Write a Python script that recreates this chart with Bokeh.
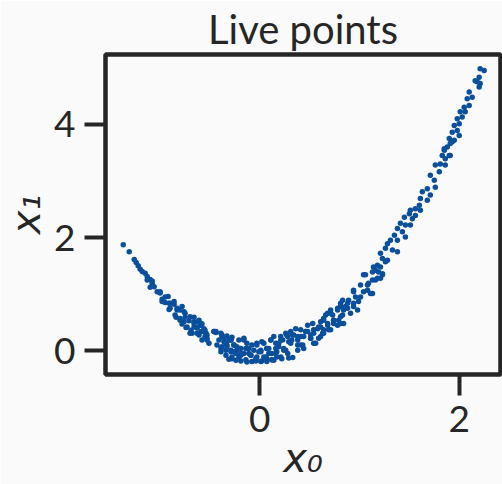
from bokeh.embed import file_html
from bokeh.models import FixedTicker, Range1d
from bokeh.plotting import figure
from bokeh.resources import INLINE

# Live points (x0, x1) of the sampler, grouped along the banana-shaped ridge
left_arm = [
    (-1.37, 1.87), (-1.31, 1.75), (-1.26, 1.61), (-1.24, 1.56), (-1.22, 1.50),
    (-1.20, 1.44), (-1.18, 1.40), (-1.15, 1.37), (-1.13, 1.31), (-1.13, 1.25),
    (-1.10, 1.26), (-1.08, 1.23), (-1.08, 1.19), (-1.10, 1.12), (-1.06, 1.13),
    (-1.03, 1.04), (-1.00, 1.02), (-0.98, 0.91), (-0.92, 0.96), (-0.95, 0.85),
    (-0.90, 0.84), (-0.86, 0.82), (-0.91, 0.73), (-0.83, 0.75), (-0.80, 0.72),
    (-0.76, 0.69), (-0.84, 0.59), (-0.80, 0.54), (-0.75, 0.59), (-0.71, 0.53),
    (-0.78, 0.47), (-0.74, 0.41), (-0.66, 0.59), (-0.62, 0.51), (-0.69, 0.36),
    (-0.63, 0.41), (-0.58, 0.47), (-0.59, 0.34), (-0.55, 0.36), (-0.53, 0.28),
    (-0.44, 0.32), (-0.38, 0.25), (-0.33, 0.26), (-0.28, 0.24),
]

valley = [
    (-1.00, 1.04), (-0.95, 0.95), (-0.98, 0.87), (-0.91, 0.84), (-0.86, 0.87),
    (-0.90, 0.75), (-0.83, 0.72), (-0.78, 0.78), (-0.85, 0.63), (-0.80, 0.57),
    (-0.75, 0.66), (-0.76, 0.51), (-0.70, 0.60), (-0.66, 0.51), (-0.61, 0.54),
    (-0.73, 0.42), (-0.66, 0.42), (-0.59, 0.45), (-0.56, 0.39), (-0.68, 0.31),
    (-0.61, 0.28), (-0.54, 0.31), (-0.58, 0.19), (-0.53, 0.22), (-0.51, 0.13),
    (-0.46, 0.34), (-0.39, 0.31), (-0.41, 0.19), (-0.36, 0.22), (-0.29, 0.19),
    (-0.38, 0.07), (-0.33, 0.10), (-0.26, 0.10), (-0.21, 0.19), (-0.16, 0.22),
    (-0.13, 0.13), (-0.39, -0.02), (-0.34, -0.08), (-0.29, 0.01), (-0.24, -0.05),
    (-0.19, 0.04), (-0.28, -0.14), (-0.21, -0.11), (-0.16, -0.05), (-0.11, 0.04),
    (-0.09, -0.08), (-0.14, -0.16), (-0.08, -0.19), (-0.03, -0.11), (0.01, -0.02),
    (-0.03, 0.10), (0.04, 0.13), (0.07, 0.04), (0.11, 0.19), (0.16, 0.13),
    (0.02, -0.18), (0.07, -0.14), (0.12, -0.05), (0.17, -0.02), (0.14, -0.17),
    (0.21, -0.11), (0.24, 0.04), (0.23, 0.19), (0.28, 0.25), (0.31, 0.13),
    (0.34, 0.28), (0.38, 0.19), (0.28, -0.05), (0.33, -0.12), (0.38, 0.01),
    (0.43, 0.10), (0.44, 0.25), (0.48, 0.34), (0.51, 0.22), (0.54, 0.31),
    (0.58, 0.39), (0.61, 0.25), (0.56, 0.13), (0.64, 0.37), (0.68, 0.48),
    (0.71, 0.37), (0.74, 0.54), (0.78, 0.45), (0.81, 0.60), (0.84, 0.72),
    (0.88, 0.84), (0.83, 0.89), (0.78, 0.75), (0.73, 0.63), (0.66, 0.63),
    (0.61, 0.51), (0.53, 0.48), (0.48, 0.45), (0.41, 0.37), (0.36, 0.39),
    (0.31, 0.34), (0.26, 0.31), (0.21, 0.25), (0.14, 0.25), (0.19, 0.07),
    (0.09, -0.05), (-0.06, 0.01), (-0.04, -0.18), (0.01, -0.19), (0.07, -0.19),
    (-0.13, -0.20), (-0.19, -0.18), (-0.24, -0.17), (-0.31, -0.15), (-0.34, 0.01),
    (-0.43, 0.10),
]

valley_core = [
    (-0.66, 0.48), (-0.60, 0.45), (-0.56, 0.37), (-0.63, 0.31), (-0.55, 0.25),
    (-0.46, 0.34), (-0.38, 0.28), (-0.36, 0.16), (-0.31, 0.19), (-0.33, 0.07),
    (-0.26, 0.10), (-0.23, 0.01), (-0.29, -0.02), (-0.19, -0.08), (-0.14, 0.04),
    (-0.11, -0.05), (-0.08, 0.10), (-0.04, -0.14), (-0.01, -0.02), (0.02, 0.16),
    (0.06, -0.11), (0.09, 0.04), (0.12, -0.16), (0.16, -0.05), (0.19, 0.13),
    (0.22, -0.14), (0.26, 0.01), (0.29, 0.16), (0.33, 0.28), (0.38, 0.10),
    (0.41, 0.25), (0.46, 0.34), (0.51, 0.22), (0.54, 0.37), (0.59, 0.42),
    (0.64, 0.54), (0.68, 0.66), (0.63, 0.31),
    (-0.39, 0.04), (-0.34, 0.13), (-0.29, 0.19), (-0.26, -0.02), (-0.28, -0.11),
    (-0.23, 0.07), (-0.16, 0.19), (-0.13, 0.04), (-0.19, -0.05), (-0.09, -0.08),
    (-0.04, -0.16), (-0.03, 0.13), (0.01, 0.01), (0.04, -0.11), (0.07, 0.04),
    (0.11, 0.19), (0.12, -0.16), (0.17, -0.11), (0.16, 0.04), (0.21, 0.19),
    (0.24, 0.01), (0.29, -0.13), (0.27, 0.28), (0.32, 0.19), (0.38, 0.25),
    (0.41, 0.10), (0.44, 0.04), (0.46, 0.34), (0.51, 0.28), (0.54, 0.13),
    (0.59, 0.22), (0.64, 0.31), (-0.44, 0.34), (-0.53, 0.19), (-0.56, 0.34),
    (-0.63, 0.40), (-0.70, 0.31), (-0.59, 0.48),
]

rise = [
    (0.61, 0.42), (0.69, 0.37), (0.71, 0.72), (0.74, 0.48), (0.79, 0.54),
    (0.81, 0.78), (0.84, 0.48), (0.88, 0.75), (0.91, 0.66), (0.94, 0.84),
    (0.94, 1.04), (0.98, 0.72), (1.01, 0.95), (1.04, 1.04), (1.08, 1.16),
    (1.06, 1.34), (1.11, 1.01), (1.13, 1.25), (1.16, 1.42), (1.18, 1.28),
    (1.21, 1.48), (1.23, 1.34), (1.26, 1.57),
]

right_arm = [
    (1.93, 3.69), (1.88, 3.60), (1.85, 3.54), (1.91, 3.45), (1.86, 3.39),
    (1.81, 3.30), (1.76, 3.28), (1.86, 3.28), (1.80, 3.16), (1.71, 3.10),
    (1.75, 3.01), (1.76, 2.89), (1.68, 2.86), (1.63, 2.81), (1.71, 2.75),
    (1.61, 2.69), (1.68, 2.66), (1.60, 2.57), (1.56, 2.51), (1.61, 2.48),
    (1.51, 2.48), (1.50, 2.42), (1.56, 2.39), (1.53, 2.33), (1.45, 2.36),
    (1.41, 2.25), (1.46, 2.22), (1.51, 2.22), (1.38, 2.16), (1.43, 2.10),
    (1.46, 2.01), (1.35, 2.04), (1.31, 1.95), (1.38, 1.95), (1.28, 1.89),
    (1.26, 1.81), (1.33, 1.78), (1.38, 1.75), (1.21, 1.72), (1.23, 1.63),
    (1.18, 1.51), (1.28, 1.60), (1.14, 1.48), (1.13, 1.39), (1.19, 1.39),
    (1.23, 1.36), (1.04, 1.34), (1.16, 1.25), (1.21, 1.28), (1.09, 1.19),
    (1.01, 1.16), (1.08, 1.07), (1.13, 1.01), (0.94, 1.07), (0.96, 0.95),
    (0.89, 0.89), (0.99, 0.87), (0.81, 0.84), (0.86, 0.78), (0.94, 0.78),
    (0.78, 0.72), (0.71, 0.66), (0.83, 0.63), (0.74, 0.54), (0.64, 0.57),
    (0.68, 0.45), (0.81, 0.48),
]

right_tip = [
    (2.25, 4.95), (2.21, 4.98), (2.20, 4.83), (2.16, 4.77), (2.21, 4.72),
    (2.18, 4.75), (2.20, 4.66), (2.10, 4.57), (2.13, 4.48), (2.08, 4.45),
    (2.10, 4.33), (2.05, 4.30), (2.01, 4.22), (2.06, 4.22), (2.03, 4.13),
    (1.98, 4.10), (2.00, 4.01), (1.95, 3.98), (1.98, 3.89), (1.93, 3.86),
    (2.00, 3.80), (1.90, 3.75), (1.95, 3.72), (1.91, 3.66), (1.85, 3.57),
    (1.83, 3.45), (1.90, 3.45),
]

x_ticks = [0, 2]
y_ticks = [0, 2, 4]

points = left_arm + valley + valley_core + rise + right_arm + right_tip
x0 = [pt[0] for pt in points]
x1 = [pt[1] for pt in points]

INK = "#262626"
BG = "#fafafa"
DOT = "#0a4f9c"

p = figure(
    width=502, height=484,
    output_backend="svg", toolbar_location=None,
    x_range=Range1d(-1.548, 2.414), y_range=Range1d(-0.42, 5.233),
    min_border_left=105, min_border_right=2,
    min_border_top=54, min_border_bottom=110,
    background_fill_color=BG, border_fill_color=BG,
)

p.scatter(x0, x1, size=5.5, fill_color=DOT, line_color=None)

# frame and axes
p.outline_line_color = INK
p.outline_line_width = 4.5
p.outline_line_alpha = 1.0
p.grid.visible = False
p.xaxis.ticker = FixedTicker(ticks=x_ticks)
p.yaxis.ticker = FixedTicker(ticks=y_ticks)
for ax in (p.xaxis, p.yaxis):
    ax.axis_line_color = None
    ax.major_tick_in = 0
    ax.major_tick_out = 21
    ax.major_tick_line_width = 4
    ax.major_tick_line_color = INK
    ax.minor_tick_line_color = None
    ax.major_label_text_font = "Lato"
    ax.major_label_text_font_size = "37px"
    ax.major_label_text_color = INK
    ax.axis_label_text_font = "DejaVu Sans"
    ax.axis_label_text_font_size = "40px"
    ax.axis_label_text_font_style = "italic"
    ax.axis_label_text_color = INK
p.xaxis.major_label_standoff = 10
p.yaxis.major_label_standoff = 9
p.xaxis.axis_label = "x\u2080"
p.yaxis.axis_label = "x\u2081"
p.xaxis.axis_label_standoff = 0
p.yaxis.axis_label_standoff = 2

# title, pinned to the top of its panel
p.title.text = "Live points"
p.title.align = "center"
p.title.vertical_align = "top"
p.title.text_font = "Lato"
p.title.text_font_size = "40px"
p.title.text_font_style = "normal"
p.title.text_color = INK
p.title.standoff = 0

open("out.html", "w").write(file_html(p, INLINE))
